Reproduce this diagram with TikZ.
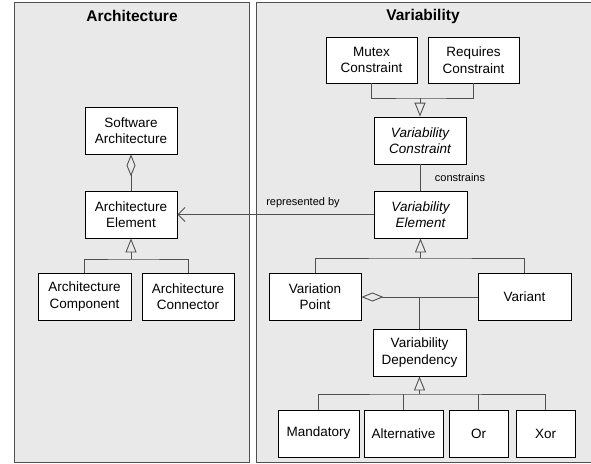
\documentclass[tikz,border=0pt]{standalone}
\usepackage{fontspec}
\setmainfont{Liberation Sans}
\usetikzlibrary{arrows.meta}
\definecolor{panelgray}{HTML}{E9E9E9}
\definecolor{linegray}{HTML}{505050}
\tikzset{
  panel/.style={draw=linegray, line width=1pt, fill=panelgray},
  cls/.style={draw=black, line width=0.8pt, fill=white, align=center, font=\fontsize{13.5}{16.5}\selectfont, inner sep=0pt, minimum height=47pt},
  conn/.style={draw=linegray, line width=0.9pt},
  gen/.style={conn, -{Triangle[open, length=14pt, width=11pt, line width=0.9pt]}},
  agg/.style={conn, {Diamond[open, length=22pt, width=9pt, line width=0.9pt]}-},
  assoc/.style={conn, -{Straight Barb[length=7pt, width=14pt, line width=0.9pt]}},
  paneltitle/.style={font=\bfseries\fontsize{15.5}{18}\selectfont},
  lbl/.style={font=\fontsize{11}{13}\selectfont},
}
\begin{document}
\begin{tikzpicture}[x=1pt, y=-1pt]
\useasboundingbox (0,0) rectangle (591,463);
\fill[white] (0,0) rectangle (591,463);
% panels
\draw[panel] (14,2) rectangle (249,462);
\draw[panel] (256,2) rectangle (596,462);
\node[paneltitle] (t1) at (132,16) {Architecture};
\node[paneltitle] (t2) at (423,16) {Variability};
% architecture
\node[cls, minimum width=92pt] (sa) at (131,130.5) {Software\\Architecture};
\node[cls, minimum width=92pt] (ae) at (131,214.5) {Architecture\\Element};
\node[cls, minimum width=93pt] (ac) at (84.5,296.5) {Architecture\\Component};
\node[cls, minimum width=92pt] (an) at (188,296.5) {Architecture\\Connector};
% variability
\node[cls, minimum width=91pt, minimum height=46pt] (mc) at (371.5,60) {Mutex\\Constraint};
\node[cls, minimum width=91pt, minimum height=46pt] (rc) at (473.5,60) {Requires\\Constraint};
\node[cls, minimum width=92pt] (vc) at (420,140.5) {\itshape Variability\\\itshape Constraint};
\node[cls, minimum width=93pt] (ve) at (420.5,214.5) {\itshape Variability\\\itshape Element};
\node[cls, minimum width=92pt] (vp) at (315,296.5) {Variation\\Point};
\node[cls, minimum width=93pt] (vr) at (524.5,296.5) {Variant};
\node[cls, minimum width=93pt] (vd) at (419.5,352.5) {Variability\\Dependency};
\node[cls, minimum width=81pt] (md) at (318.5,433.5) {Mandatory};
\node[cls, minimum width=79pt] (al) at (403.5,433.5) {Alternative};
\node[cls, minimum width=59pt] (or) at (478.5,433.5) {Or};
\node[cls, minimum width=59pt] (xr) at (545.5,433.5) {Xor};
% junctions
\coordinate (ja) at (131,259);
\coordinate (jc) at (420,98);
\coordinate (je) at (420.5,258);
\coordinate (jv) at (419.5,297);
\coordinate (jd) at (419.5,394);
% architecture connectors
\draw[agg] (sa.south) -- (ae.north);
\draw[conn] (ac.north) |- (ja) -| (an.north);
\draw[gen] (ja) -- (ae.south);
% variability connectors
\draw[conn] (mc.south) |- (jc) -| (rc.south);
\draw[gen] (jc) -- (vc.north);
\draw[conn] (vc.south) -- (ve.north -| vc.south);
\node[lbl] (lc) at (460,178) {constrains};
\draw[assoc] (ve.west) -- (ae.east);
\node[lbl] (lr) at (303,203) {represented by};
\draw[conn] (vp.north) |- (je) -| (vr.north);
\draw[gen] (je) -- (ve.south);
\draw[agg] (vp.east |- jv) -- (vr.west |- jv);
\draw[conn] (jv) -- (vd.north);
\draw[conn] (md.north) |- (jd) -| (xr.north);
\draw[conn] (al.north) -- (al.north |- jd);
\draw[conn] (or.north) -- (or.north |- jd);
\draw[gen] (jd) -- (vd.south);
\end{tikzpicture}
\end{document}
